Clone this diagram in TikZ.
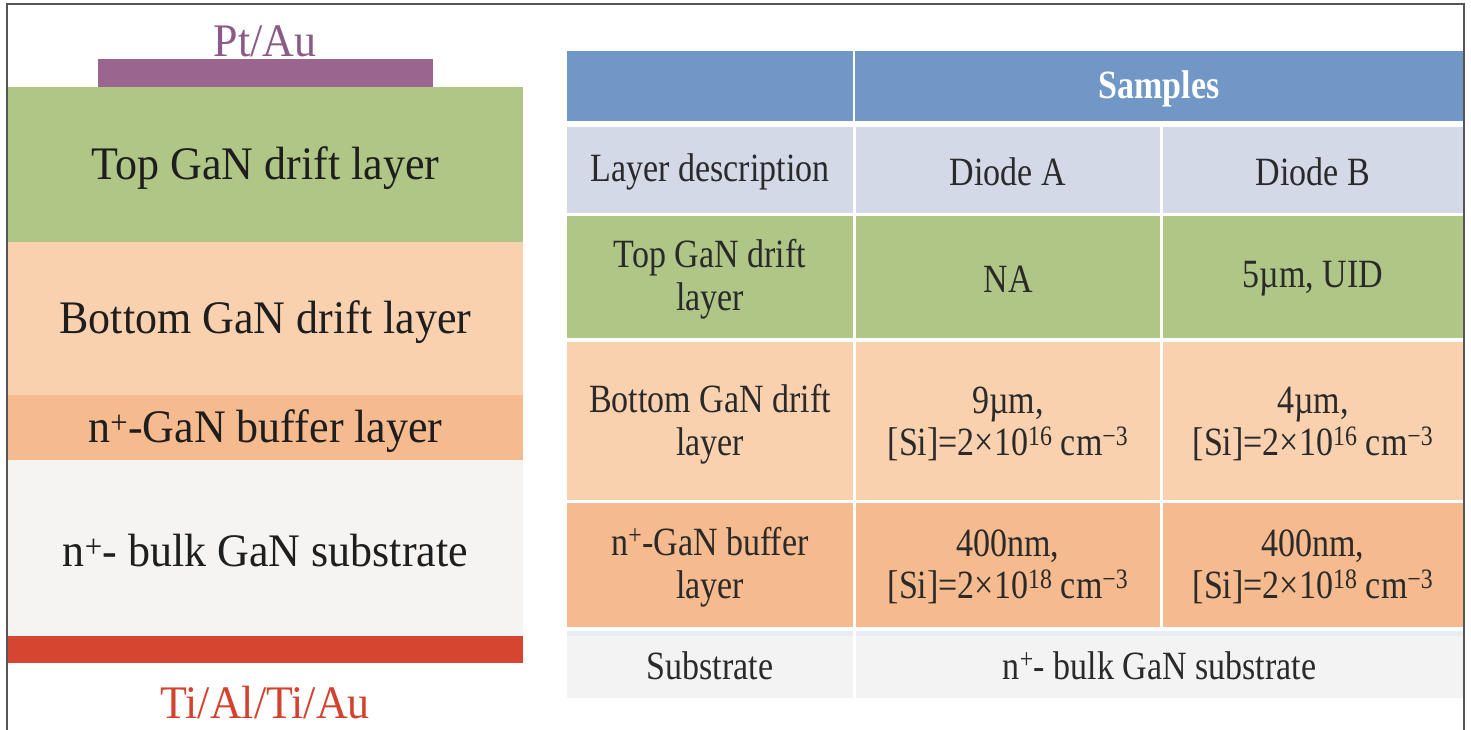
\documentclass[tikz,border=0pt]{standalone}
\usepackage{fontspec}
\setmainfont{Liberation Serif}
\definecolor{cpurple}{HTML}{9A6690}
\definecolor{cpurpletxt}{HTML}{8C5A88}
\definecolor{cgreen}{HTML}{AFC686}
\definecolor{cpeach}{HTML}{F9D1AF}
\definecolor{corange}{HTML}{F5BA8D}
\definecolor{cgray}{HTML}{F5F4F2}
\definecolor{cred}{HTML}{D6452F}
\definecolor{credtxt}{HTML}{D2432F}
\definecolor{cblue}{HTML}{7097C5}
\definecolor{clav}{HTML}{D3D9E7}
\definecolor{ctgray}{HTML}{F3F3F3}
\definecolor{cstrip}{HTML}{E9EDF3}
\definecolor{ink}{HTML}{1E1E1E}
\definecolor{tink}{HTML}{2A2A2A}
\definecolor{frame}{HTML}{555555}
\begin{document}
\begin{tikzpicture}[x=1pt,y=-1pt,
  layer/.style={rectangle, inner sep=0pt, minimum width=515pt},
  ltext/.style={inner sep=0pt, text=ink, yscale=1.06, font=\fontsize{44}{50}\selectfont},
  metal/.style={inner sep=0pt, yscale=1.06, font=\fontsize{44}{50}\selectfont},
  cell/.style={rectangle, inner sep=0pt, draw=none},
  ttext/.style={inner sep=0pt, align=center, text=tink, yscale=1.18, font=\fontsize{34}{36}\selectfont},
  htext/.style={inner sep=0pt, align=center, text=white, yscale=1.18, font=\fontsize{34}{36}\selectfont\bfseries}
]
\useasboundingbox (0,0) rectangle (1471,730);
\fill[white] (0,0) rectangle (1471,730);
\draw[frame, line width=1.6pt] (7,730) -- (7,4) -- (1464,4) -- (1464,730);

% ---- layer stack ----
\node[metal, text=cpurpletxt] (ptau) at (265,41) {Pt/Au};
\node[layer, fill=cpurple, minimum width=335pt, minimum height=28pt] (top) at (265.5,73) {};
\node[layer, fill=cgreen, minimum height=155pt] (drifttop) at (265.5,164.5) {};
\node[layer, fill=cpeach, minimum height=153pt] (driftbot) at (265.5,318.5) {};
\node[layer, fill=corange, minimum height=65pt] (buffer) at (265.5,427.5) {};
\node[layer, fill=cgray, minimum height=176pt] (subs) at (265.5,548) {};
\node[layer, fill=cred, minimum height=27pt] (bottom) at (265.5,649.5) {};
\node[metal, text=credtxt] (tiau) at (265,703) {Ti/Al/Ti/Au};

\node[ltext] (tdt) at ([yshift=-4pt]drifttop.center) {Top GaN drift layer};
\node[ltext] (tdb) at ([yshift=-4pt]driftbot.center) {Bottom GaN drift layer};
\node[ltext] (tbu) at ([yshift=-4pt]buffer.center) {n\textsuperscript{+}-GaN buffer layer};
\node[ltext] (tsu) at ([yshift=-3pt]subs.center) {n\textsuperscript{+}- bulk GaN substrate};

% ---- table cells ----
\node[cell, fill=cblue, minimum width=286pt, minimum height=70pt] (h1) at (710,86) {};
\node[cell, fill=cblue, minimum width=608pt, minimum height=70pt] (h2) at (1159,86) {};

\node[cell, fill=clav, minimum width=286pt, minimum height=86pt] (a1) at (710,170) {};
\node[cell, fill=clav, minimum width=304pt, minimum height=86pt] (a2) at (1008,170) {};
\node[cell, fill=clav, minimum width=300pt, minimum height=86pt] (a3) at (1313,170) {};

\node[cell, fill=cgreen, minimum width=286pt, minimum height=122pt] (b1) at (710,277) {};
\node[cell, fill=cgreen, minimum width=304pt, minimum height=122pt] (b2) at (1008,277) {};
\node[cell, fill=cgreen, minimum width=300pt, minimum height=122pt] (b3) at (1313,277) {};

\node[cell, fill=cpeach, minimum width=286pt, minimum height=158pt] (c1) at (710,421) {};
\node[cell, fill=cpeach, minimum width=304pt, minimum height=158pt] (c2) at (1008,421) {};
\node[cell, fill=cpeach, minimum width=300pt, minimum height=158pt] (c3) at (1313,421) {};

\node[cell, fill=corange, minimum width=286pt, minimum height=124pt] (d1) at (710,565) {};
\node[cell, fill=corange, minimum width=304pt, minimum height=124pt] (d2) at (1008,565) {};
\node[cell, fill=corange, minimum width=300pt, minimum height=124pt] (d3) at (1313,565) {};

\node[cell, fill=ctgray, minimum width=286pt, minimum height=66pt] (e1) at (710,664.5) {};
\node[cell, fill=ctgray, minimum width=607pt, minimum height=66pt] (e2) at (1159.5,664.5) {};
\fill[cstrip] (e1.north west) rectangle ([yshift=-5pt]e1.north east);
\fill[cstrip] (e2.north west) rectangle ([yshift=-5pt]e2.north east);

% ---- table text ----
\node[htext] (th2) at ([yshift=-3pt]h2.center) {Samples};
\node[ttext] (ta1) at ([yshift=-2pt]a1.center) {Layer description};
\node[ttext] (ta2) at ([yshift=-2pt]a2.center) {Diode A};
\node[ttext] (ta3) at ([yshift=-2pt]a3.center) {Diode B};
\node[ttext] (tb1) at ([yshift=-2pt]b1.center) {Top GaN drift\\layer};
\node[ttext] (tb2) at ([yshift=-2pt]b2.center) {NA};
\node[ttext] (tb3) at ([yshift=-2pt]b3.center) {5µm, UID};
\node[ttext] (tc1) at ([yshift=-3pt]c1.center) {Bottom GaN drift\\layer};
\node[ttext] (tc2) at ([yshift=-3pt]c2.center) {9µm,\\{[}Si{]}=2×10\textsuperscript{16} cm\textsuperscript{−3}};
\node[ttext] (tc3) at ([yshift=-3pt]c3.center) {4µm,\\{[}Si{]}=2×10\textsuperscript{16} cm\textsuperscript{−3}};
\node[ttext] (td1) at ([yshift=-2pt]d1.center) {n\textsuperscript{+}-GaN buffer\\layer};
\node[ttext] (td2) at ([yshift=-2pt]d2.center) {400nm,\\{[}Si{]}=2×10\textsuperscript{18} cm\textsuperscript{−3}};
\node[ttext] (td3) at ([yshift=-2pt]d3.center) {400nm,\\{[}Si{]}=2×10\textsuperscript{18} cm\textsuperscript{−3}};
\node[ttext] (te1) at ([yshift=-1pt]e1.center) {Substrate};
\node[ttext] (te2) at ([yshift=-1pt]e2.center) {n\textsuperscript{+}- bulk GaN substrate};
\end{tikzpicture}
\end{document}
